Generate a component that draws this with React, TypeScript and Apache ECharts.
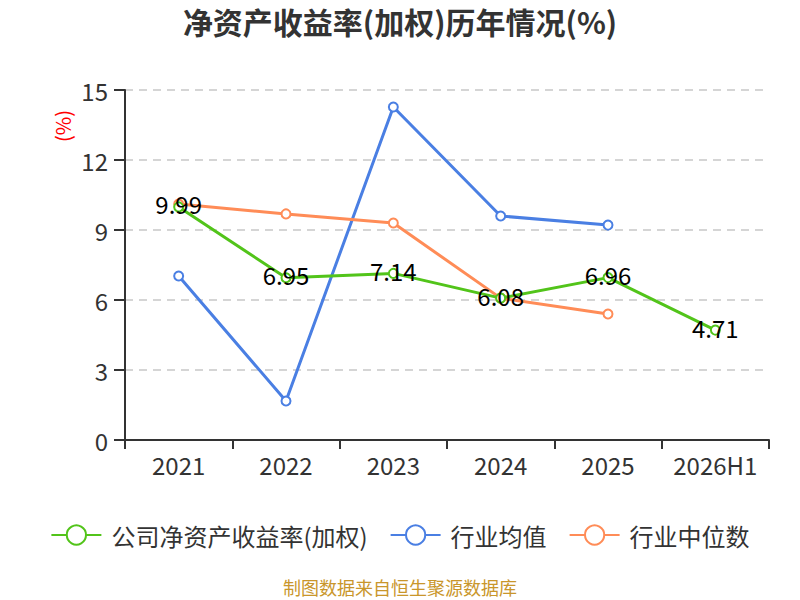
import React, { useEffect, useRef } from "react";
import * as echarts from "echarts";

const categories = ["2021", "2022", "2023", "2024", "2025", "2026H1"];
const companyRoe = [9.99, 6.95, 7.14, 6.08, 6.96, 4.71];
const industryAvg = [7.03, 1.67, 14.27, 9.6, 9.21, null];
const industryMedian = [10.11, 9.69, 9.3, 6.08, 5.4, null];
const seriesNames = ["公司净资产收益率(加权)", "行业均值", "行业中位数"];
const yTicks = { min: 0, max: 15, interval: 3 };

const FONT = '"Noto Sans CJK SC", "Noto Sans", sans-serif';

export default function App() {
  const ref = useRef<HTMLDivElement>(null);
  useEffect(() => {
    document.body.style.margin = "0";
    if (!ref.current) return;
    const chart = echarts.init(ref.current, null, { renderer: "svg" });
    const mkSeries = (name: string, data: any[], color: string, showLabel: boolean, z: number) => ({
      name,
      type: "line",
      data,
      z,
      symbol: "emptyCircle",
      symbolSize: 9,
      showAllSymbol: true,
      lineStyle: { color, width: 3 },
      itemStyle: { color, borderWidth: 2 },
      label: showLabel
        ? { show: true, position: "inside", offset: [0, -3], color: "#000", fontSize: 24, fontFamily: FONT }
        : { show: false },
    });
    chart.setOption({
      animation: false,
      textStyle: { fontFamily: FONT },
      title: {
        text: "净资产收益率(加权)历年情况(%)",
        left: "center",
        top: 1,
        textStyle: { fontSize: 30, fontWeight: "bold", color: "#333", fontFamily: FONT },
      },
      legend: {
        top: 518,
        left: "center",
        itemWidth: 50,
        itemHeight: 24,
        itemGap: 22,
        textStyle: { fontSize: 24, color: "#333", fontFamily: FONT, padding: [0, 0, 0, 5] },
        data: seriesNames,
      },
      grid: { left: 125, right: 31, top: 90, bottom: 160, containLabel: false },
      xAxis: {
        type: "category",
        data: categories,
        boundaryGap: true,
        axisLine: { lineStyle: { color: "#333", width: 2 } },
        axisTick: { show: true, interval: 0, length: 9, lineStyle: { color: "#333", width: 2 } },
        axisLabel: { interval: 0, fontSize: 24, color: "#333", margin: 12, fontFamily: FONT },
      },
      yAxis: {
        type: "value",
        min: yTicks.min,
        max: yTicks.max,
        interval: yTicks.interval,
        axisLine: { show: true, lineStyle: { color: "#333", width: 2 } },
        axisTick: { show: true, length: 11, lineStyle: { color: "#333", width: 2 } },
        axisLabel: { fontSize: 24, color: "#333", margin: 17, fontFamily: FONT },
        splitLine: { show: true, lineStyle: { color: "#c8c8c8", type: [8, 6], width: 1.5 } },
      },
      graphic: [
        {
          type: "text",
          x: 62,
          y: 126,
          rotation: Math.PI / 2,
          style: {
            text: "(%)",
            fill: "#ff0000",
            fontSize: 20,
            fontFamily: FONT,
            align: "center",
            verticalAlign: "middle",
          },
        },
        {
          type: "text",
          left: "center",
          top: 578,
          style: { text: "制图数据来自恒生聚源数据库", fill: "#c9962b", fontSize: 18, fontFamily: FONT },
        },
      ],
      series: [
        mkSeries(seriesNames[0], companyRoe, "#52c41a", true, 5),
        mkSeries(seriesNames[1], industryAvg, "#4a7fe3", false, 3),
        mkSeries(seriesNames[2], industryMedian, "#ff8c57", false, 4),
      ],
    });
    return () => chart.dispose();
  }, []);
  return <div ref={ref} style={{ width: 800, height: 600 }} />;
}
